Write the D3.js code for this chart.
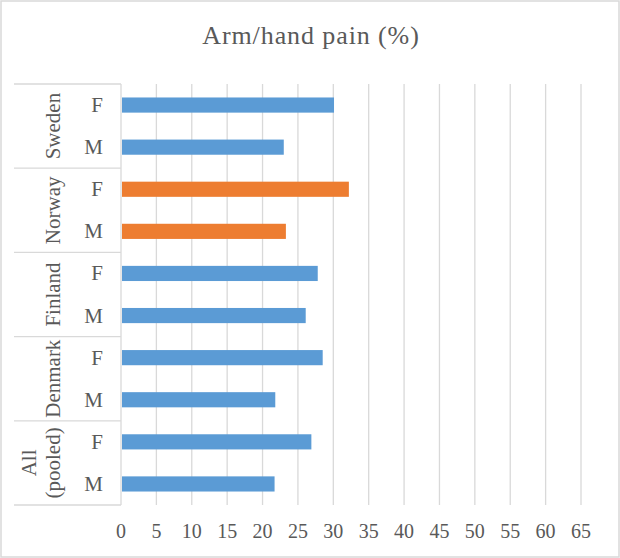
<!DOCTYPE html>
<html>
<head>
<meta charset="utf-8">
<script src="https://cdn.jsdelivr.net/npm/d3@7"></script>
<style>
  html, body { margin: 0; padding: 0; background: #fff; }
  svg { display: block; }
  text { font-family: "Liberation Serif", "Times New Roman", serif; fill: #595959; }
</style>
</head>
<body>
<div id="chart"></div>
<script>
// ---- data ----
const countries = ["Sweden", "Norway", "Finland", "Denmark", "All (pooled)"];
const sexes = ["F", "M"];
const values = {
  "Sweden":       [30.1, 23.0],
  "Norway":       [32.2, 23.3],
  "Finland":      [27.8, 26.1],
  "Denmark":      [28.5, 21.8],
  "All (pooled)": [26.9, 21.7]
};
const highlighted = ["Norway"];
const xTicks = [0, 5, 10, 15, 20, 25, 30, 35, 40, 45, 50, 55, 60, 65];
const title = "Arm/hand pain (%)";

// ---- layout ----
const W = 620, H = 558;
const plot = { left: 121, right: 581, top: 84, bottom: 505 };
const catLeft = 14;

const rows = [];
countries.forEach(c => sexes.forEach((s, i) => rows.push({ country: c, sex: s, value: values[c][i], id: c + "|" + s })));

const svg = d3.select("#chart").append("svg").attr("width", W).attr("height", H);

// chart border
svg.append("rect").attr("x", 1).attr("y", 1).attr("width", W - 2).attr("height", H - 2)
  .attr("fill", "#fff").attr("stroke", "#d9d9d9").attr("stroke-width", 1.5);

const x = d3.scaleLinear().domain([0, 65]).range([plot.left, plot.right]);
const y = d3.scaleBand().domain(rows.map(r => r.id)).range([plot.top, plot.bottom]).paddingInner(0.64).paddingOuter(0.32);
const yRow = d3.scaleBand().domain(rows.map(r => r.id)).range([plot.top, plot.bottom]);
const yGroup = d3.scaleBand().domain(countries).range([plot.top, plot.bottom]);

// gridlines
svg.append("g").selectAll("line").data(xTicks.filter(t => t > 0)).join("line")
  .attr("x1", d => x(d)).attr("x2", d => x(d))
  .attr("y1", plot.top).attr("y2", plot.bottom)
  .attr("stroke", "#d9d9d9").attr("stroke-width", 1.3);

// x tick labels
svg.append("g").selectAll("text").data(xTicks).join("text")
  .attr("x", d => x(d)).attr("y", 538)
  .attr("text-anchor", "middle").attr("font-size", 20)
  .text(d => d);

// bars
svg.append("g").selectAll("rect").data(rows).join("rect")
  .attr("x", x(0) + 1)
  .attr("y", d => y(d.id))
  .attr("width", d => x(d.value) - x(0) - 1)
  .attr("height", y.bandwidth())
  .attr("fill", d => highlighted.includes(d.country) ? "#ed7d31" : "#5b9bd5");

// category axis lines
const cat = svg.append("g").attr("stroke", "#d9d9d9").attr("stroke-width", 1.3);
cat.append("line").attr("x1", plot.left).attr("x2", plot.left).attr("y1", plot.top).attr("y2", plot.bottom);
const seps = countries.map(c => yGroup(c)).concat([plot.bottom]);
cat.selectAll("line.sep").data(seps).join("line").attr("class", "sep")
  .attr("x1", catLeft).attr("x2", plot.left).attr("y1", d => d).attr("y2", d => d);

// sex labels
svg.append("g").selectAll("text").data(rows).join("text")
  .attr("x", 103).attr("y", d => yRow(d.id) + yRow.bandwidth() / 2 + 7)
  .attr("text-anchor", "end").attr("font-size", 21)
  .text(d => d.sex);

// country labels (rotated)
const gl = svg.append("g").selectAll("g").data(countries).join("g")
  .attr("transform", d => `translate(0, ${yGroup(d) + yGroup.bandwidth() / 2}) rotate(-90)`);
gl.each(function(d) {
  const parts = d.split(" ");
  const g = d3.select(this);
  const lineH = 24;
  const lastBase = 60;
  parts.forEach((p, i) => {
    g.append("text").attr("x", 0).attr("y", lastBase - (parts.length - 1 - i) * lineH)
      .attr("text-anchor", "middle").attr("font-size", 21).text(p);
  });
});

// title
svg.append("text").attr("x", 311).attr("y", 44)
  .attr("text-anchor", "middle").attr("font-size", 26).attr("letter-spacing", 0.9)
  .text(title);
</script>
</body>
</html>
